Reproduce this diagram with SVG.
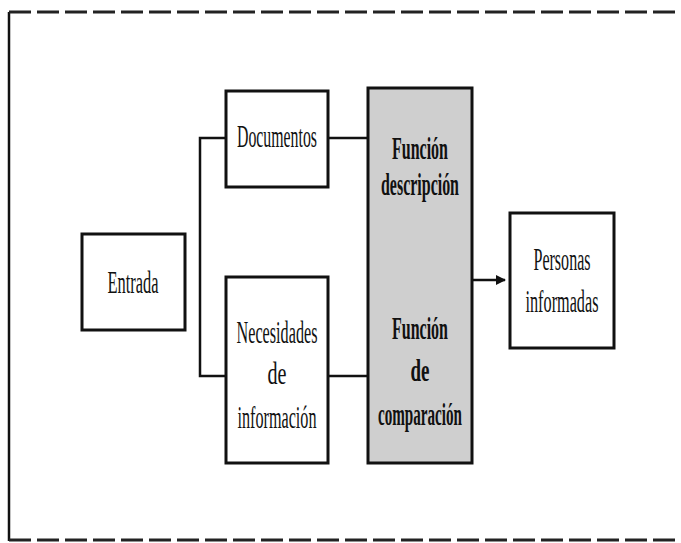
<svg xmlns="http://www.w3.org/2000/svg" width="681" height="543" viewBox="0 0 681 543">
<style>
.box{fill:#fff;stroke:#111;stroke-width:3}
.fn{fill:#cfcfcf;stroke:#111;stroke-width:3}
.t{font-family:"Liberation Serif","Times New Roman",serif;font-size:31px;fill:#111;text-anchor:middle}
.b{font-weight:bold}
.c{fill:none;stroke:#111;stroke-width:2.5}
</style>
<defs>
<marker id="ah" viewBox="0 0 10 10" refX="9" refY="5" markerWidth="4" markerHeight="4" orient="auto" markerUnits="strokeWidth">
<path d="M0,0 L10,5 L0,10 Z" fill="#111"/>
</marker>
</defs>
<rect width="681" height="543" fill="#fff"/>
<g id="frame">
<line x1="9" y1="12" x2="9" y2="541" stroke="#111" stroke-width="2.5"/>
<line x1="9" y1="12" x2="681" y2="12" stroke="#222" stroke-width="3" stroke-dasharray="22,6"/>
<line x1="9" y1="540" x2="681" y2="540" stroke="#222" stroke-width="3" stroke-dasharray="22,6"/>
</g>
<g id="connectors">
<polyline class="c" points="226,138 200,138 200,376 226,376"/>
<line class="c" x1="328" y1="138" x2="368" y2="138"/>
<line class="c" x1="328" y1="376" x2="368" y2="376"/>
<line class="c" x1="472" y1="280" x2="505" y2="280" stroke-width="3.5" marker-end="url(#ah)"/>
</g>
<g id="entrada">
<rect class="box" x="82" y="234" width="103" height="96"/>
<text class="t" x="133" y="293" textLength="51" lengthAdjust="spacingAndGlyphs">Entrada</text>
</g>
<g id="documentos">
<rect class="box" x="226" y="91" width="102" height="96"/>
<text class="t" x="277" y="147" textLength="80" lengthAdjust="spacingAndGlyphs">Documentos</text>
</g>
<g id="necesidades">
<rect class="box" x="226" y="277" width="102" height="186"/>
<text class="t" x="277" y="343" textLength="81" lengthAdjust="spacingAndGlyphs">Necesidades</text>
<text class="t" x="277" y="384" textLength="19" lengthAdjust="spacingAndGlyphs">de</text>
<text class="t" x="277" y="428" textLength="79" lengthAdjust="spacingAndGlyphs">información</text>
</g>
<g id="funcion">
<rect class="fn" x="368" y="88" width="104" height="375"/>
<text class="t b" x="420" y="159" textLength="56" lengthAdjust="spacingAndGlyphs">Función</text>
<text class="t b" x="420" y="195" textLength="78" lengthAdjust="spacingAndGlyphs">descripción</text>
<text class="t b" x="420" y="339" textLength="56" lengthAdjust="spacingAndGlyphs">Función</text>
<text class="t b" x="420" y="381" textLength="19" lengthAdjust="spacingAndGlyphs">de</text>
<text class="t b" x="420" y="425" textLength="84" lengthAdjust="spacingAndGlyphs">comparación</text>
</g>
<g id="personas">
<rect class="box" x="510" y="213" width="104" height="135"/>
<text class="t" x="562" y="270" textLength="57" lengthAdjust="spacingAndGlyphs">Personas</text>
<text class="t" x="562" y="312" textLength="73" lengthAdjust="spacingAndGlyphs">informadas</text>
</g>
</svg>
